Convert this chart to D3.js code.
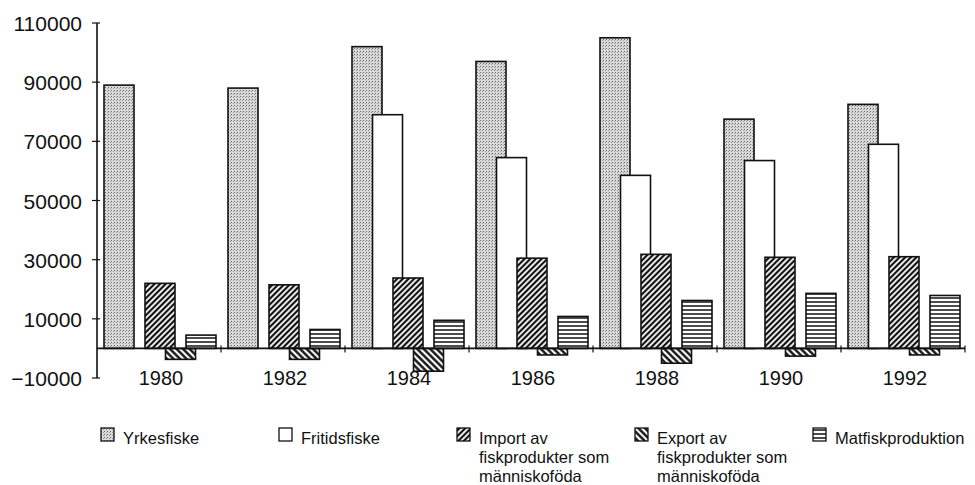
<!DOCTYPE html>
<html>
<head>
<meta charset="utf-8">
<script src="https://cdn.jsdelivr.net/npm/d3@7"></script>
<style>
  html, body { margin: 0; padding: 0; background: #fff; }
  svg { display: block; font-family: "Liberation Sans", Arial, sans-serif; }
  .tick-label { font-size: 21px; fill: #111; }
  .year-label { font-size: 20px; fill: #111; }
  .legend-label { font-size: 16.5px; fill: #111; }
</style>
</head>
<body>
<svg id="chart" width="975" height="485"></svg>
<script>
// Values (tonnes per year)
const years = ['1980', '1982', '1984', '1986', '1988', '1990', '1992'];
const seriesNames = ['Yrkesfiske', 'Fritidsfiske', 'Import', 'Export', 'Matfisk'];
const yrkesfiske   = [89000, 88000, 102000, 97000, 105000, 77500, 82500];
const fritidsfiske = [null, null, 79000, 64500, 58500, 63500, 69000];
const importFisk   = [22000, 21500, 23800, 30500, 31800, 30800, 31000];
const exportFisk   = [-3700, -3700, -7700, -2200, -5000, -2600, -2200];
const matfisk      = [4500, 6400, 9500, 10800, 16200, 18600, 17900];
const yTicks = [-10000, 10000, 30000, 50000, 70000, 90000, 110000];
const legendLines = [
  ['Yrkesfiske'],
  ['Fritidsfiske'],
  ['Import av', 'fiskprodukter som', 'människoföda'],
  ['Export av', 'fiskprodukter som', 'människoföda'],
  ['Matfiskproduktion'],
];

const seriesValues = [yrkesfiske, fritidsfiske, importFisk, exportFisk, matfisk];
const fills = ['url(#stipple)', '#fff', 'url(#hatchUp)', 'url(#hatchDown)', 'url(#hlines)'];

const svg = d3.select('#chart');

// Patterns
const defs = svg.append('defs');

const stipple = defs.append('pattern').attr('id', 'stipple')
  .attr('patternUnits', 'userSpaceOnUse').attr('width', 3).attr('height', 3);
stipple.append('rect').attr('width', 3).attr('height', 3).attr('fill', '#dadada');
stipple.append('rect').attr('width', 1).attr('height', 1).attr('fill', '#666');
stipple.append('rect').attr('x', 2).attr('y', 1).attr('width', 1).attr('height', 1).attr('fill', '#999');

function hatch(idName, angle, spacing, weight) {
  const p = defs.append('pattern').attr('id', idName)
    .attr('patternUnits', 'userSpaceOnUse')
    .attr('width', spacing).attr('height', spacing)
    .attr('patternTransform', `rotate(${angle})`);
  p.append('rect').attr('width', spacing).attr('height', spacing).attr('fill', '#fff');
  p.append('line').attr('x1', spacing / 2).attr('x2', spacing / 2)
    .attr('y1', 0).attr('y2', spacing)
    .attr('stroke', '#111').attr('stroke-width', weight);
}
hatch('hatchUp', 45, 4, 2.2);
hatch('hatchDown', -45, 4.6, 2.4);

const hl = defs.append('pattern').attr('id', 'hlines')
  .attr('patternUnits', 'userSpaceOnUse').attr('width', 4).attr('height', 4);
hl.append('rect').attr('width', 4).attr('height', 4).attr('fill', '#fff');
hl.append('line').attr('x1', 0).attr('x2', 4).attr('y1', 2).attr('y2', 2)
  .attr('stroke', '#111').attr('stroke-width', 1.5);

// Scales
const x0 = d3.scaleBand().domain(years).range([97, 965]).padding(0);
const xInner = d3.scaleLinear().domain([0, seriesNames.length - 1]).range([7, 89]);
const barW = 30;
const y = d3.scaleLinear().domain([-10000, 110000]).range([378, 23]);

// Y axis
const yAxis = svg.append('g').attr('transform', `translate(${x0.range()[0]},0)`)
  .call(d3.axisLeft(y).tickValues(yTicks).tickSize(0).tickPadding(15).tickFormat(d3.format('d')));
yAxis.select('.domain').remove();
yAxis.selectAll('text').attr('class', 'tick-label').attr('font-size', null).attr('font-family', null)
  .attr('fill', null).attr('dy', '0.36em');

svg.append('line')
  .attr('x1', 97).attr('x2', 97).attr('y1', y(110000)).attr('y2', y(-10000))
  .attr('stroke', '#111').attr('stroke-width', 1.6);
svg.append('g').selectAll('line').data(yTicks).join('line')
  .attr('x1', 92).attr('x2', 100)
  .attr('y1', d => y(d)).attr('y2', d => y(d))
  .attr('stroke', '#111').attr('stroke-width', 1.2);

// Bars
const barData = [];
seriesValues.forEach((vals, s) => {
  vals.forEach((v, i) => {
    if (v == null) return;
    barData.push({ s, year: years[i], v });
  });
});

svg.append('g').selectAll('rect').data(barData).join('rect')
  .attr('x', d => x0(d.year) + xInner(d.s))
  .attr('width', barW)
  .attr('y', d => y(Math.max(0, d.v)))
  .attr('height', d => Math.abs(y(d.v) - y(0)))
  .attr('fill', d => fills[d.s])
  .attr('stroke', '#111')
  .attr('stroke-width', 1.6);

// Zero line with category ticks
svg.append('line')
  .attr('x1', 97).attr('x2', 965).attr('y1', y(0)).attr('y2', y(0))
  .attr('stroke', '#111').attr('stroke-width', 1.6);
svg.append('g').selectAll('line').data(years.slice(1).concat(['end'])).join('line')
  .attr('x1', (d, i) => x0(years[i]) + x0.bandwidth())
  .attr('x2', (d, i) => x0(years[i]) + x0.bandwidth())
  .attr('y1', y(0) - 3).attr('y2', y(0) + 4)
  .attr('stroke', '#111').attr('stroke-width', 1.2);

// Year labels
svg.append('g').selectAll('text').data(years).join('text')
  .attr('class', 'year-label')
  .attr('x', d => x0(d) + x0.bandwidth() / 2 + 2)
  .attr('y', 385)
  .attr('text-anchor', 'middle')
  .text(d => d);

// Legend
const legendX = d3.scaleLinear().domain([0, 4]).range([101, 813]);
const legend = svg.append('g').selectAll('g').data(seriesNames).join('g')
  .attr('transform', (d, i) => `translate(${legendX(i)},428)`);
legend.append('rect')
  .attr('width', 13).attr('height', 13)
  .attr('fill', (d, i) => fills[i])
  .attr('stroke', '#111').attr('stroke-width', 1.3);
legend.append('text')
  .attr('class', 'legend-label')
  .attr('x', 22).attr('y', 16)
  .selectAll('tspan').data((d, i) => legendLines[i]).join('tspan')
  .attr('x', 22).attr('dy', (d, j) => j === 0 ? 0 : 19)
  .text(d => d);
</script>
</body>
</html>
